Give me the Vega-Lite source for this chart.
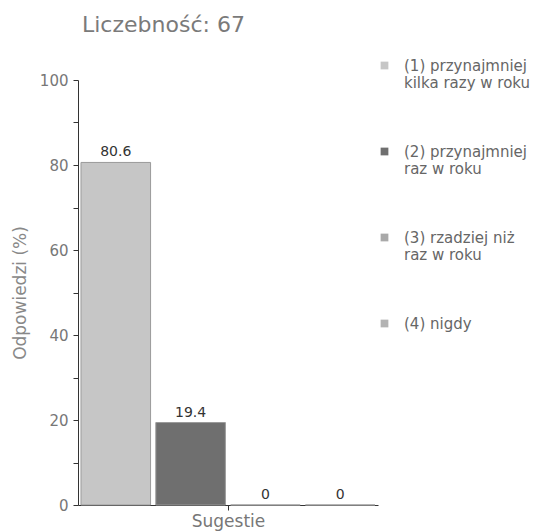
{
  "$schema": "https://vega.github.io/schema/vega-lite/v6.json",
  "autosize": "none",
  "width": 300,
  "height": 425,
  "padding": {"left": 78, "top": 80, "right": 179, "bottom": 26},
  "background": "white",
  "title": {
    "text": "Liczebność: 67",
    "anchor": "start",
    "frame": "group",
    "dx": 4,
    "dy": 12,
    "offset": 33,
    "fontSize": 22,
    "fontWeight": "normal",
    "font": "DejaVu Sans",
    "color": "#7a7a7a"
  },
  "config": {
    "view": {"stroke": null},
    "font": "DejaVu Sans"
  },
  "data": {
    "values": [
      {"grupa": "Sugestie", "kategoria": "(1) przynajmniej|kilka razy  w  roku", "k": 1, "wartosc": 80.6},
      {"grupa": "Sugestie", "kategoria": "(2) przynajmniej|raz w  roku", "k": 2, "wartosc": 19.4},
      {"grupa": "Sugestie", "kategoria": "(3) rzadziej niż|raz w  roku", "k": 3, "wartosc": 0},
      {"grupa": "Sugestie", "kategoria": "(4) nigdy", "k": 4, "wartosc": 0}
    ]
  },
  "encoding": {
    "x": {
      "field": "grupa",
      "type": "nominal",
      "scale": {"paddingInner": 0, "paddingOuter": 0},
      "axis": {
        "title": "Sugestie",
        "labels": false,
        "ticks": true,
        "tickSize": 5,
        "tickColor": "#333333",
        "domainColor": "#333333",
        "titleFont": "DejaVu Sans",
        "titleFontSize": 17,
        "titleFontWeight": "normal",
        "titleColor": "#777777",
        "titlePadding": 3
      }
    },
    "xOffset": {
      "field": "k",
      "type": "ordinal",
      "scale": {"paddingInner": 0.07, "paddingOuter": 0.04}
    }
  },
  "layer": [
    {
      "mark": {"type": "bar", "stroke": "#9a9a9a", "strokeWidth": 1},
      "encoding": {
        "y": {
          "field": "wartosc",
          "type": "quantitative",
          "scale": {"domain": [0, 100]},
          "axis": {
            "title": "Odpowiedzi (%)",
            "values": [0, 10, 20, 30, 40, 50, 60, 70, 80, 90, 100],
            "labelExpr": "datum.value % 20 == 0 ? datum.label : ''",
            "grid": false,
            "tickSize": 5,
            "tickColor": "#333333",
            "domainColor": "#333333",
            "labelFont": "DejaVu Sans",
            "labelFontSize": 15,
            "labelColor": "#777777",
            "labelPadding": 5,
            "titleFont": "DejaVu Sans",
            "titleFontSize": 17,
            "titleFontWeight": "normal",
            "titleColor": "#888888",
            "titlePadding": 10
          }
        },
        "color": {
          "field": "kategoria",
          "type": "nominal",
          "sort": null,
          "scale": {"range": ["#c6c6c6", "#6f6f6f", "#a9a9a9", "#b3b3b3"]},
          "legend": {
            "title": null,
            "orient": "none",
            "legendX": 299,
            "legendY": -22,
            "symbolType": "square",
            "symbolSize": 60,
            "symbolStrokeWidth": 0,
            "labelExpr": "split(datum.label, '|')",
            "labelFont": "DejaVu Sans",
            "labelFontSize": 15,
            "labelColor": "#666666",
            "labelLimit": 200,
            "labelBaseline": "middle",
            "labelOffset": 12,
            "rowPadding": 53
          }
        }
      }
    },
    {
      "mark": {"type": "text", "dy": -10, "fontSize": 14, "font": "DejaVu Sans", "color": "#333333"},
      "encoding": {
        "y": {"field": "wartosc", "type": "quantitative"},
        "text": {"field": "wartosc", "type": "quantitative"}
      }
    }
  ]
}
